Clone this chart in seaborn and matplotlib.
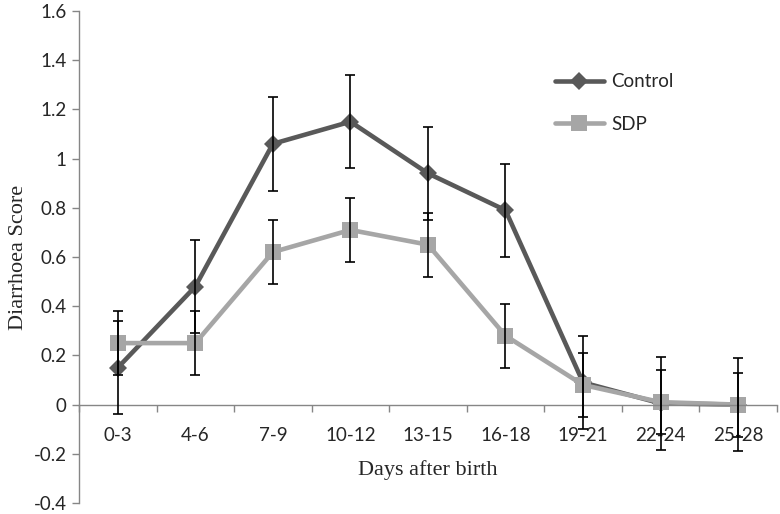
import matplotlib.pyplot as plt
import numpy as np
import pandas as pd
import seaborn as sns

sns.set_style("white")
plt.rcParams["font.family"] = ["Lato", "DejaVu Sans"]

days = ["0-3", "4-6", "7-9", "10-12", "13-15", "16-18", "19-21", "22-24", "25-28"]
control = [0.15, 0.48, 1.06, 1.15, 0.94, 0.79, 0.09, 0.005, 0.0]
control_err = [0.19, 0.19, 0.19, 0.19, 0.19, 0.19, 0.19, 0.19, 0.19]
sdp = [0.25, 0.25, 0.62, 0.71, 0.65, 0.28, 0.08, 0.01, 0.0]
sdp_err = [0.13, 0.13, 0.13, 0.13, 0.13, 0.13, 0.13, 0.13, 0.13]

pos = np.arange(len(days))
df = pd.concat(
    [
        pd.DataFrame(dict(pos=pos, score=control, err=control_err, group="Control")),
        pd.DataFrame(dict(pos=pos, score=sdp, err=sdp_err, group="SDP")),
    ]
)

colors = {"Control": "#595959", "SDP": "#a6a6a6"}
markers = {"Control": "D", "SDP": "s"}
msizes = {"Control": 9, "SDP": 11.5}
axis_gray = "#868686"

fig = plt.figure(figsize=(7.8, 5.14), dpi=100)
ax = fig.add_axes([0.1013, 0.0214, 0.8947, 0.9572])

for name, g in df.groupby("group"):
    sns.lineplot(
        data=g, x="pos", y="score", ax=ax, color=colors[name], lw=3.3,
        marker=markers[name], markersize=msizes[name], markeredgewidth=0,
        label=name, errorbar=None, zorder=2,
    )
    ax.errorbar(g["pos"], g["score"], yerr=g["err"], fmt="none", ecolor="black",
                elinewidth=1.2, capsize=3.6, capthick=1.2, zorder=3)

ax.set_xlim(-0.5, len(days) - 0.5)
ax.set_ylim(-0.4, 1.6)
ax.set_yticks(np.arange(-0.4, 1.61, 0.2))
ax.set_yticklabels(["-0.4", "-0.2", "0", "0.2", "0.4", "0.6", "0.8", "1", "1.2", "1.4", "1.6"])
ax.set_xticks(pos)
ax.set_xticklabels(days)
ax.set_xticks(np.arange(-0.5, len(days), 1.0), minor=True)

for s in ["top", "right"]:
    ax.spines[s].set_visible(False)
ax.spines["bottom"].set_position(("data", 0))
for s in ["left", "bottom"]:
    ax.spines[s].set_color(axis_gray)
    ax.spines[s].set_linewidth(1.0)

ax.tick_params(axis="y", which="major", direction="out", length=5, color=axis_gray,
               width=1, labelsize=13.5, pad=4, left=True)
ax.tick_params(axis="x", which="major", length=0, labelsize=13.5, pad=16, bottom=True)
ax.tick_params(axis="x", which="minor", direction="out", length=5, color=axis_gray,
               width=1, bottom=True)

ax.set_xlabel("Days after birth", family=["Liberation Serif"], fontsize=16, labelpad=12)
ax.set_ylabel("Diarrhoea Score", family=["Liberation Serif"], fontsize=16, labelpad=4)

ax.legend(loc="upper left", bbox_to_anchor=(0.682, 0.873), frameon=False,
          fontsize=13.5, handlelength=2.6, handletextpad=0.4, labelspacing=1.35,
          borderpad=0, borderaxespad=0)

fig.savefig("out.png", dpi=100)
